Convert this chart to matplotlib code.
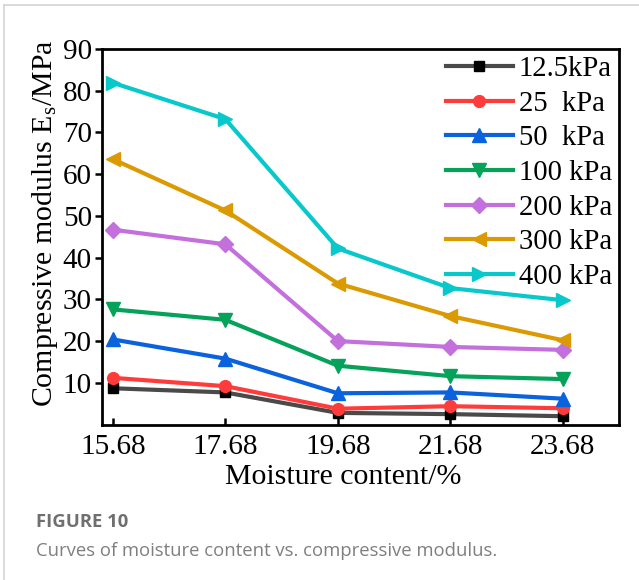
import matplotlib
matplotlib.use("Agg")
import matplotlib.pyplot as plt
from matplotlib.lines import Line2D

# moisture content (%) and compressive modulus Es (MPa) per vertical load
moisture = [15.68, 17.68, 19.68, 21.68, 23.68]
loads = ["12.5kPa", "25  kPa", "50  kPa", "100 kPa", "200 kPa", "300 kPa", "400 kPa"]
es_12_5 = [8.7, 7.7, 2.8, 2.5, 2.0]
es_25 = [11.2, 9.2, 3.8, 4.4, 3.9]
es_50 = [20.4, 15.8, 7.5, 7.7, 6.2]
es_100 = [27.6, 25.1, 14.1, 11.6, 10.9]
es_200 = [46.7, 43.2, 20.0, 18.6, 17.9]
es_300 = [63.6, 51.3, 33.8, 26.0, 20.2]
es_400 = [81.9, 73.2, 42.2, 32.7, 29.8]
series = [es_12_5, es_25, es_50, es_100, es_200, es_300, es_400]

colors = ["#4a4a4a", "#ff3c3c", "#0a62dc", "#05a25a", "#c470dc", "#dc9a02", "#08c8cc"]
mcolors = ["#000000", "#ff3c3c", "#0a62dc", "#05a25a", "#c470dc", "#dc9a02", "#08c8cc"]
markers = ["s", "o", "^", "v", "D", "<", ">"]
msizes = [7, 8.5, 10, 10, 8.5, 10.5, 10.5]

plt.rcParams["font.family"] = ["Liberation Serif", "DejaVu Serif"]
plt.rcParams["mathtext.fontset"] = "custom"
plt.rcParams["mathtext.rm"] = "Liberation Serif"
plt.rcParams["mathtext.it"] = "Liberation Serif"

fig = plt.figure(figsize=(6.39, 5.8), dpi=100)
ax = fig.add_axes([0.159, 0.268, 0.81, 0.6475])

for vals, lab, c, mc, m, ms in zip(series, loads, colors, mcolors, markers, msizes):
    ax.plot(moisture, vals, color=c, lw=3, marker=m, ms=ms,
            markerfacecolor=mc, markeredgecolor=mc, label=lab)

ax.set_xlim(15.48, 24.68)
ax.set_ylim(0, 90)
ax.set_xticks(moisture)
ax.set_xticklabels(["%.2f" % v for v in moisture])
ax.set_yticks(range(10, 100, 10))
ax.tick_params(axis="x", direction="in", length=5, width=1.8, labelsize=21, pad=7)
ax.tick_params(axis="y", direction="out", length=5, width=1.8, labelsize=21, pad=2)
for s in ax.spines.values():
    s.set_linewidth(2)

ax.set_xlabel("Moisture content/%", fontsize=21.5)
ax.set_ylabel("Compressive modulus E$_\\mathrm{s}$/MPa", fontsize=21.5)
ax.xaxis.set_label_coords(0.467, -0.105)
ax.yaxis.set_label_coords(-0.08, 0.535)

ax.legend(loc="upper right", frameon=False, fontsize=20.6, handlelength=2.35,
          handletextpad=0.2, labelspacing=0.3, borderaxespad=0.1,
          borderpad=0.15)

# card border and caption
fig.add_artist(Line2D([4 / 639, 4 / 639], [0, 1 - 5 / 580], color="#d4d4d4", lw=1.2))
fig.add_artist(Line2D([4 / 639, 1], [1 - 5 / 580, 1 - 5 / 580], color="#d4d4d4", lw=1.2))
fig.text(36 / 639, 1 - 527 / 580, "FIGURE 10", family="Open Sans", fontsize=13.3,
         fontweight="bold", color="#6f6f6f", va="baseline")
fig.text(36 / 639, 1 - 556 / 580, "Curves of moisture content vs. compressive modulus.",
         family="Open Sans", fontsize=13.3, color="#7f7f7f", va="baseline")

fig.savefig("out.png", dpi=100)
